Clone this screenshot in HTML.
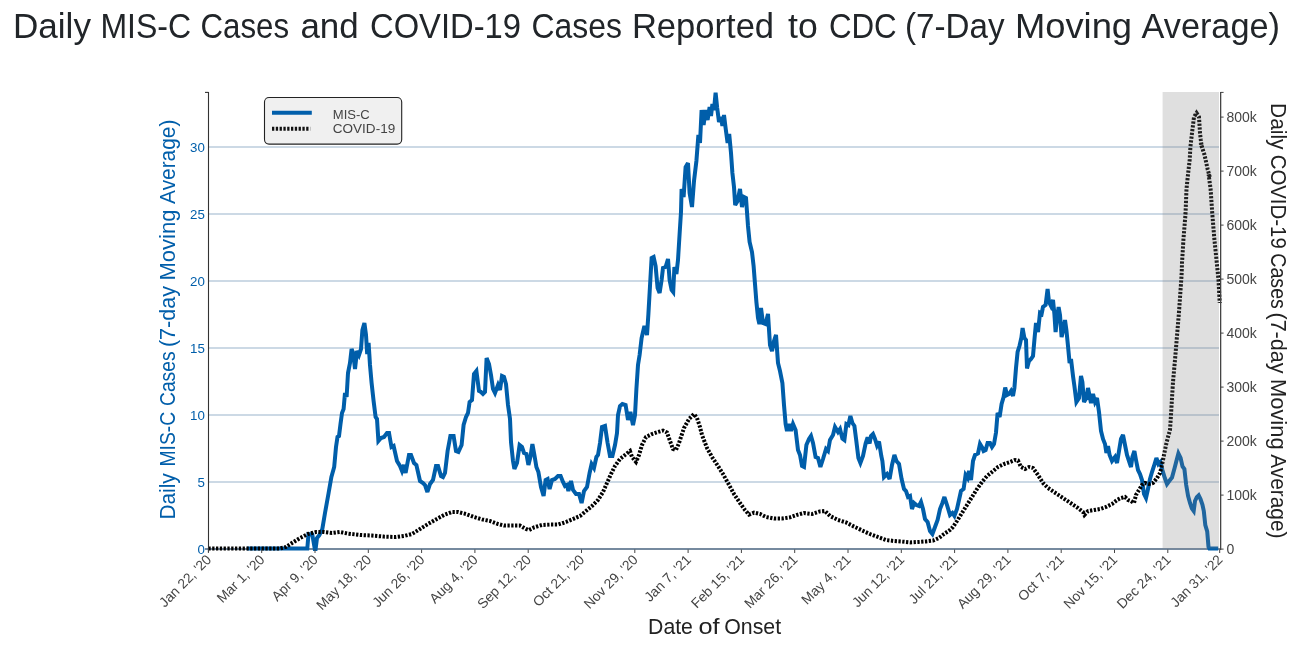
<!DOCTYPE html>
<html><head><meta charset="utf-8"><title>Daily MIS-C Cases and COVID-19 Cases Reported to CDC</title>
<style>html,body{margin:0;padding:0;background:#fff;}body{width:1309px;height:650px;overflow:hidden;font-family:"Liberation Sans", sans-serif;}svg{display:block;}text{font-family:"Liberation Sans", sans-serif;}</style></head><body>
<svg width="1309" height="650" viewBox="0 0 1309 650">
<defs><filter id="idf" x="0" y="0" width="1309" height="650" filterUnits="userSpaceOnUse" color-interpolation-filters="sRGB"><feOffset dx="0" dy="0"/></filter></defs>
<g filter="url(#idf)">
<rect x="0" y="0" width="1309" height="650" fill="#ffffff"/>
<g fill="#212529" font-size="35.3px">
<text x="12.9" y="37.8" textLength="78.1" lengthAdjust="spacingAndGlyphs">Daily</text>
<text x="100.4" y="37.8" textLength="90.7" lengthAdjust="spacingAndGlyphs">MIS-C</text>
<text x="200.5" y="37.8" textLength="88.6" lengthAdjust="spacingAndGlyphs">Cases</text>
<text x="300.4" y="37.8" textLength="58.3" lengthAdjust="spacingAndGlyphs">and</text>
<text x="370.0" y="37.8" textLength="151.0" lengthAdjust="spacingAndGlyphs">COVID-19</text>
<text x="531.5" y="37.8" textLength="90.5" lengthAdjust="spacingAndGlyphs">Cases</text>
<text x="631.9" y="37.8" textLength="142.2" lengthAdjust="spacingAndGlyphs">Reported</text>
<text x="788.0" y="37.8" textLength="29.7" lengthAdjust="spacingAndGlyphs">to</text>
<text x="828.9" y="37.8" textLength="67.8" lengthAdjust="spacingAndGlyphs">CDC</text>
<text x="905.0" y="37.8" textLength="99.5" lengthAdjust="spacingAndGlyphs">(7-Day</text>
<text x="1014.9" y="37.8" textLength="117.2" lengthAdjust="spacingAndGlyphs">Moving</text>
<text x="1141.5" y="37.8" textLength="138.5" lengthAdjust="spacingAndGlyphs">Average)</text>
</g>
<g stroke="#bbcddd" stroke-width="1.5">
<line x1="209" x2="1219" y1="482.0" y2="482.0"/>
<line x1="209" x2="1219" y1="415.0" y2="415.0"/>
<line x1="209" x2="1219" y1="348.0" y2="348.0"/>
<line x1="209" x2="1219" y1="281.0" y2="281.0"/>
<line x1="209" x2="1219" y1="214.0" y2="214.0"/>
<line x1="209" x2="1219" y1="147.0" y2="147.0"/>
</g>
<line x1="205" x2="1221" y1="549" y2="549" stroke="#48637f" stroke-width="1.6"/>
<path d="M247.0,548.6 L307.3,548.6 L308.5,534.0 L312.3,534.5 L314.8,549.0 L315.6,549.0 L317.0,538.0 L319.2,535.4 L322.3,529.2 L325.0,513.0 L328.6,493.0 L331.4,477.0 L334.2,467.0 L336.0,447.0 L337.5,437.0 L339.0,436.0 L340.5,424.0 L342.0,413.0 L343.6,409.0 L345.0,393.0 L346.6,397.0 L348.0,373.0 L350.0,363.0 L351.6,349.0 L353.2,353.0 L355.0,369.0 L357.0,351.0 L359.0,355.0 L361.0,349.0 L362.4,330.0 L364.4,323.0 L366.0,335.0 L367.2,354.0 L368.6,343.0 L370.0,365.0 L371.6,383.0 L373.6,401.0 L375.6,417.0 L377.0,419.0 L378.4,441.0 L381.0,438.0 L384.0,437.0 L387.0,433.0 L389.0,433.0 L390.4,441.0 L391.5,447.0 L393.6,446.0 L397.0,461.0 L400.0,466.0 L402.0,471.0 L404.0,465.0 L405.6,473.0 L409.0,455.0 L411.0,455.0 L414.0,463.0 L416.4,465.0 L420.0,481.0 L423.0,483.0 L425.0,485.0 L427.4,492.0 L430.0,484.0 L433.0,480.0 L436.0,466.0 L438.0,466.0 L441.0,476.0 L443.0,477.0 L445.0,473.0 L447.6,451.0 L450.4,436.0 L453.6,436.0 L456.0,451.0 L458.4,452.0 L461.6,445.0 L463.6,425.0 L466.0,417.0 L468.0,413.0 L469.6,402.0 L472.0,400.0 L474.0,374.0 L476.4,371.0 L479.0,391.0 L481.0,392.0 L483.0,394.0 L485.0,392.0 L486.6,358.0 L489.0,364.0 L491.0,375.0 L493.0,389.0 L495.0,393.0 L498.0,385.0 L500.0,390.0 L502.0,376.0 L504.0,377.0 L506.0,384.0 L508.0,405.0 L510.0,419.0 L511.0,442.0 L513.0,461.0 L514.4,469.0 L517.0,463.0 L519.6,445.0 L522.0,447.0 L524.0,453.0 L526.4,454.0 L528.4,465.0 L530.4,457.0 L532.4,444.0 L534.4,455.0 L536.4,467.0 L538.4,472.0 L541.0,487.0 L543.6,496.0 L545.6,480.0 L547.6,479.0 L549.6,489.0 L552.0,480.0 L555.0,479.0 L558.0,476.0 L560.6,476.0 L563.0,482.0 L565.0,486.0 L567.0,485.0 L568.4,491.0 L571.0,481.0 L573.0,490.0 L576.0,494.0 L579.0,494.0 L581.6,503.0 L584.0,491.0 L587.0,487.0 L589.6,473.0 L591.6,464.0 L594.0,468.0 L596.4,457.0 L598.0,455.0 L600.0,443.0 L602.0,427.0 L605.0,426.0 L607.6,443.0 L610.0,456.0 L612.4,456.0 L615.0,445.0 L617.0,433.0 L618.0,415.0 L620.0,406.0 L622.4,404.0 L625.6,405.0 L628.0,420.0 L630.4,412.0 L633.0,425.0 L635.0,415.0 L636.4,389.0 L638.0,365.0 L639.6,355.0 L641.6,338.0 L644.4,326.0 L647.0,335.0 L648.4,314.0 L650.0,286.0 L651.6,258.0 L653.6,257.0 L655.6,266.0 L657.6,288.0 L659.6,293.0 L661.6,280.0 L663.0,268.0 L665.6,267.0 L668.0,259.0 L669.6,280.0 L671.6,290.0 L673.2,292.0 L674.4,267.0 L676.4,274.0 L678.0,260.0 L679.6,234.0 L681.0,212.0 L681.6,189.0 L683.6,197.0 L685.6,167.0 L688.0,163.0 L689.6,193.0 L692.0,207.0 L694.0,181.0 L696.4,161.0 L698.4,135.0 L700.0,143.0 L701.6,110.0 L703.6,125.0 L705.6,110.0 L707.6,120.0 L709.6,107.0 L711.0,116.0 L712.4,104.0 L714.0,110.0 L715.6,92.6 L717.2,108.0 L719.0,122.0 L721.0,117.0 L722.4,126.0 L724.0,115.0 L725.6,128.0 L727.6,143.0 L729.2,134.0 L731.0,153.0 L732.4,173.0 L734.0,187.0 L735.2,205.0 L737.6,201.0 L740.0,189.0 L742.0,207.0 L744.0,197.0 L746.0,198.0 L747.0,212.0 L748.0,226.0 L749.6,242.0 L752.0,252.0 L753.6,266.0 L755.0,284.0 L756.4,302.0 L758.0,318.0 L759.4,324.0 L761.0,308.0 L763.0,323.0 L765.6,324.0 L768.0,314.0 L770.0,345.0 L772.0,351.0 L774.0,341.0 L776.0,335.0 L778.0,363.0 L780.0,371.0 L782.4,383.0 L784.0,405.0 L785.6,424.0 L787.0,431.0 L789.0,424.0 L791.0,431.0 L793.0,424.0 L795.6,430.0 L798.0,450.0 L800.0,455.0 L802.0,466.0 L804.0,467.0 L806.4,445.0 L809.0,439.0 L811.0,436.0 L813.0,443.0 L815.6,457.0 L818.0,458.0 L820.4,467.0 L823.0,459.0 L826.0,449.0 L828.0,451.0 L830.0,440.0 L833.0,435.0 L835.0,427.0 L838.0,432.0 L840.0,429.0 L842.4,438.5 L844.4,440.0 L846.4,424.0 L848.4,425.0 L850.4,416.0 L852.4,423.0 L854.4,426.0 L856.2,440.0 L858.4,458.0 L860.4,463.0 L863.0,456.0 L865.6,443.5 L867.6,437.5 L869.6,443.5 L871.0,436.0 L873.0,434.0 L875.0,439.0 L877.0,445.5 L879.0,441.5 L881.3,456.0 L882.4,461.0 L884.0,477.0 L887.0,474.0 L889.6,479.0 L892.0,465.0 L894.4,455.0 L896.4,461.0 L899.0,464.0 L901.6,479.0 L904.0,489.0 L906.0,491.0 L908.0,497.0 L910.0,496.0 L912.0,509.0 L914.0,503.0 L916.4,505.0 L919.0,506.0 L921.0,502.0 L923.0,509.0 L925.0,519.0 L927.6,522.0 L930.0,531.0 L932.4,534.0 L935.0,527.0 L937.6,520.0 L940.0,509.0 L942.4,503.0 L944.4,497.0 L947.0,505.0 L950.0,515.0 L952.4,513.0 L954.4,516.0 L957.0,509.0 L959.0,500.0 L961.0,491.0 L963.6,489.0 L965.6,475.0 L967.6,478.0 L969.0,471.0 L971.0,480.0 L973.0,461.0 L975.0,455.0 L978.0,453.5 L980.0,444.0 L982.4,448.0 L983.6,451.0 L985.6,450.0 L987.6,443.0 L990.0,443.0 L992.0,447.0 L994.0,444.0 L996.0,432.5 L997.6,413.0 L999.6,417.0 L1001.6,404.0 L1003.6,397.0 L1005.2,387.5 L1007.0,395.0 L1009.0,394.0 L1011.0,391.0 L1013.0,396.0 L1014.4,388.0 L1016.0,368.0 L1017.6,352.0 L1019.6,345.5 L1021.4,337.5 L1022.6,328.0 L1024.4,338.0 L1026.0,340.0 L1027.0,368.5 L1029.0,361.0 L1031.0,359.0 L1033.0,356.0 L1034.4,340.0 L1036.0,323.0 L1038.0,332.0 L1040.0,313.0 L1041.6,314.0 L1043.0,307.0 L1045.6,305.0 L1047.6,289.0 L1049.0,302.0 L1051.0,306.0 L1053.0,300.0 L1054.4,314.0 L1055.6,332.0 L1057.0,318.0 L1058.6,307.0 L1060.0,315.0 L1061.6,337.0 L1063.2,330.0 L1065.0,320.0 L1066.4,330.0 L1068.0,346.0 L1069.6,363.0 L1071.0,359.0 L1073.0,376.0 L1074.4,386.0 L1076.4,402.0 L1079.0,398.0 L1081.0,376.0 L1082.4,382.0 L1084.0,402.0 L1086.4,398.0 L1088.0,388.0 L1089.6,396.0 L1091.0,403.0 L1093.0,394.0 L1095.0,402.0 L1097.0,398.0 L1099.0,412.0 L1101.0,431.0 L1103.0,439.0 L1105.0,444.0 L1106.4,453.0 L1108.0,446.0 L1109.6,455.0 L1112.0,461.0 L1115.0,457.0 L1117.0,463.0 L1119.0,451.0 L1121.0,439.0 L1123.0,435.0 L1125.0,445.0 L1127.0,455.0 L1129.0,461.0 L1131.0,467.0 L1132.4,457.0 L1134.4,451.0 L1136.0,460.0 L1138.0,470.0 L1140.0,474.0 L1142.0,480.0 L1144.0,494.0 L1146.0,498.0 L1148.0,489.0 L1150.0,479.0 L1152.0,472.0 L1154.0,466.0 L1156.4,458.0 L1158.4,464.0 L1160.4,462.0 L1162.4,470.0 L1165.0,478.5 L1167.0,484.0 L1169.6,480.5 L1172.0,477.5 L1174.6,468.0 L1176.4,461.0 L1178.4,453.5 L1180.6,458.0 L1182.5,466.4 L1184.4,469.0 L1186.2,485.0 L1188.1,496.0 L1190.0,503.0 L1191.8,508.3 L1193.7,511.0 L1195.0,501.0 L1196.8,497.2 L1198.7,495.4 L1200.5,499.0 L1202.4,504.6 L1203.8,511.0 L1205.3,525.0 L1207.2,531.4 L1208.5,547.0 L1209.4,548.6 L1218.2,548.6" fill="none" stroke="#005eaa" stroke-width="4" stroke-linejoin="miter" stroke-miterlimit="3" stroke-linecap="butt"/>
<path d="M208.4,548.6 L280.0,548.4 L286.0,547.0 L292.0,543.0 L300.0,538.0 L308.0,534.0 L316.0,532.0 L324.0,532.0 L332.0,533.0 L340.0,532.0 L348.0,533.6 L360.0,535.0 L372.0,535.6 L384.0,536.6 L396.0,537.0 L404.0,536.0 L412.0,534.0 L420.0,529.0 L428.0,524.0 L436.0,519.4 L444.0,515.0 L452.0,512.0 L458.0,512.0 L466.0,514.0 L474.0,517.0 L482.0,519.4 L490.0,521.0 L498.0,524.0 L504.0,525.6 L512.0,525.6 L520.0,525.6 L526.0,529.0 L529.0,530.0 L534.0,527.4 L542.0,525.0 L550.0,524.6 L558.0,524.6 L566.0,522.0 L574.0,518.6 L580.0,516.0 L586.0,511.0 L592.0,506.0 L598.0,500.0 L603.0,492.0 L607.0,483.0 L611.0,474.0 L615.0,466.0 L620.0,459.0 L625.0,455.0 L630.0,451.0 L632.0,457.0 L636.0,462.0 L639.0,455.0 L642.0,445.0 L646.0,437.0 L652.0,434.0 L658.0,432.0 L663.0,430.6 L667.0,432.5 L670.0,441.0 L673.0,449.0 L676.0,450.0 L679.0,443.0 L682.0,434.0 L684.0,428.0 L689.0,419.0 L694.0,414.0 L697.0,418.0 L700.0,427.0 L702.0,435.0 L707.0,448.0 L712.0,457.0 L718.0,466.0 L723.0,474.0 L728.0,483.0 L734.0,494.0 L740.0,503.0 L745.0,510.0 L749.0,514.6 L754.0,512.6 L760.0,514.0 L766.0,517.0 L774.0,518.6 L782.0,518.6 L790.0,517.4 L798.0,514.6 L804.0,513.0 L812.0,514.0 L820.0,511.4 L825.0,511.0 L830.0,516.0 L838.0,520.0 L846.0,522.4 L854.0,526.6 L862.0,530.4 L870.0,534.0 L878.0,537.0 L886.0,540.0 L894.0,541.0 L902.0,541.6 L910.0,542.4 L918.0,542.0 L926.0,541.4 L933.0,540.6 L939.0,538.0 L944.0,534.0 L950.0,530.0 L953.0,527.0 L957.0,521.0 L962.0,513.0 L967.0,505.0 L972.0,497.0 L977.0,489.0 L982.0,482.0 L987.0,476.0 L992.0,472.0 L998.0,467.0 L1004.0,464.0 L1010.0,462.0 L1015.0,460.0 L1018.0,460.6 L1021.0,467.0 L1025.0,469.0 L1029.0,467.0 L1033.0,468.0 L1038.0,475.0 L1043.0,483.0 L1048.0,488.0 L1054.0,492.0 L1060.0,496.0 L1066.0,500.0 L1072.0,504.0 L1078.0,508.0 L1083.0,512.0 L1084.4,515.0 L1088.0,511.0 L1094.0,510.0 L1100.0,509.0 L1106.0,507.0 L1112.0,504.0 L1117.0,500.0 L1121.0,498.0 L1125.0,497.0 L1128.0,500.0 L1131.0,501.0 L1134.0,503.0 L1136.0,495.0 L1139.0,490.0 L1142.0,485.0 L1145.0,483.0 L1149.0,484.0 L1153.0,483.0 L1157.0,478.0 L1160.0,473.0 L1162.0,465.0 L1164.0,455.0 L1166.0,445.0 L1168.0,437.0 L1170.0,430.0 L1171.0,415.0 L1172.0,398.0 L1173.0,382.0 L1175.0,360.0 L1177.0,336.0 L1179.0,312.0 L1180.4,292.0 L1181.6,275.0 L1182.0,263.0 L1183.5,238.5 L1185.5,214.0 L1186.5,189.0 L1188.0,174.5 L1189.7,159.7 L1190.4,147.0 L1192.0,133.0 L1194.0,117.0 L1196.5,113.0 L1199.0,117.0 L1200.0,133.0 L1200.8,140.0 L1201.8,147.0 L1200.6,143.0 L1204.5,154.8 L1207.7,169.5 L1209.8,177.0 L1208.6,174.5 L1210.6,189.0 L1212.3,214.0 L1214.3,238.5 L1216.8,263.0 L1218.5,280.0 L1219.7,303.0" fill="none" stroke="#000000" stroke-width="4" stroke-dasharray="2.3 1.5" stroke-linejoin="miter" stroke-miterlimit="2"/>
<rect x="1162.6" y="92" width="56.4" height="456.5" fill="#808080" fill-opacity="0.25"/>
<g stroke="#333" stroke-width="1.1" fill="none">
<path d="M208.5,92 V552"/>
<path d="M205,92.4 H208.5"/>
</g>
<g stroke="#444" stroke-width="1.3" fill="none">
<path d="M1220.65,92 V550"/>
<path d="M1220.65,92.4 H1223.6" stroke-width="1"/>
<path d="M1220.65,549.1 H1223.6" stroke-width="1"/>
<path d="M1220.65,495.1 H1223.6" stroke-width="1"/>
<path d="M1220.65,441.1 H1223.6" stroke-width="1"/>
<path d="M1220.65,387.1 H1223.6" stroke-width="1"/>
<path d="M1220.65,333.1 H1223.6" stroke-width="1"/>
<path d="M1220.65,279.1 H1223.6" stroke-width="1"/>
<path d="M1220.65,225.1 H1223.6" stroke-width="1"/>
<path d="M1220.65,171.1 H1223.6" stroke-width="1"/>
<path d="M1220.65,117.1 H1223.6" stroke-width="1"/>
</g>
<g stroke="#444" stroke-width="1">
<line x1="208.4" x2="208.4" y1="549.5" y2="553"/>
<line x1="261.7" x2="261.7" y1="549.5" y2="553"/>
<line x1="315.0" x2="315.0" y1="549.5" y2="553"/>
<line x1="368.3" x2="368.3" y1="549.5" y2="553"/>
<line x1="421.6" x2="421.6" y1="549.5" y2="553"/>
<line x1="474.9" x2="474.9" y1="549.5" y2="553"/>
<line x1="528.2" x2="528.2" y1="549.5" y2="553"/>
<line x1="581.5" x2="581.5" y1="549.5" y2="553"/>
<line x1="634.8" x2="634.8" y1="549.5" y2="553"/>
<line x1="688.1" x2="688.1" y1="549.5" y2="553"/>
<line x1="741.4" x2="741.4" y1="549.5" y2="553"/>
<line x1="794.7" x2="794.7" y1="549.5" y2="553"/>
<line x1="848.0" x2="848.0" y1="549.5" y2="553"/>
<line x1="901.3" x2="901.3" y1="549.5" y2="553"/>
<line x1="954.6" x2="954.6" y1="549.5" y2="553"/>
<line x1="1007.9" x2="1007.9" y1="549.5" y2="553"/>
<line x1="1061.2" x2="1061.2" y1="549.5" y2="553"/>
<line x1="1114.5" x2="1114.5" y1="549.5" y2="553"/>
<line x1="1167.8" x2="1167.8" y1="549.5" y2="553"/>
<line x1="1219.7" x2="1219.7" y1="549.5" y2="553"/>
</g>
<g fill="#005eaa" font-size="13.3px" text-anchor="end">
<text x="204.8" y="553.8">0</text>
<text x="204.8" y="486.8">5</text>
<text x="204.8" y="419.8">10</text>
<text x="204.8" y="352.8">15</text>
<text x="204.8" y="285.8">20</text>
<text x="204.8" y="218.8">25</text>
<text x="204.8" y="151.8">30</text>
</g>
<g fill="#444" font-size="14px">
<text x="1226.5" y="553.9">0</text>
<text x="1226.5" y="499.9">100k</text>
<text x="1226.5" y="445.9">200k</text>
<text x="1226.5" y="391.9">300k</text>
<text x="1226.5" y="337.9">400k</text>
<text x="1226.5" y="283.9">500k</text>
<text x="1226.5" y="229.9">600k</text>
<text x="1226.5" y="175.9">700k</text>
<text x="1226.5" y="121.9">800k</text>
</g>
<g fill="#444" font-size="13.8px" text-anchor="end">
<text transform="translate(212.2,560.5) rotate(-45)" x="0" y="0">Jan 22, '20</text>
<text transform="translate(265.5,560.5) rotate(-45)" x="0" y="0">Mar 1, '20</text>
<text transform="translate(318.8,560.5) rotate(-45)" x="0" y="0">Apr 9, '20</text>
<text transform="translate(372.1,560.5) rotate(-45)" x="0" y="0">May 18, '20</text>
<text transform="translate(425.4,560.5) rotate(-45)" x="0" y="0">Jun 26, '20</text>
<text transform="translate(478.7,560.5) rotate(-45)" x="0" y="0">Aug 4, '20</text>
<text transform="translate(532.0,560.5) rotate(-45)" x="0" y="0">Sep 12, '20</text>
<text transform="translate(585.3,560.5) rotate(-45)" x="0" y="0">Oct 21, '20</text>
<text transform="translate(638.6,560.5) rotate(-45)" x="0" y="0">Nov 29, '20</text>
<text transform="translate(691.9,560.5) rotate(-45)" x="0" y="0">Jan 7, '21</text>
<text transform="translate(745.2,560.5) rotate(-45)" x="0" y="0">Feb 15, '21</text>
<text transform="translate(798.5,560.5) rotate(-45)" x="0" y="0">Mar 26, '21</text>
<text transform="translate(851.8,560.5) rotate(-45)" x="0" y="0">May 4, '21</text>
<text transform="translate(905.1,560.5) rotate(-45)" x="0" y="0">Jun 12, '21</text>
<text transform="translate(958.4,560.5) rotate(-45)" x="0" y="0">Jul 21, '21</text>
<text transform="translate(1011.7,560.5) rotate(-45)" x="0" y="0">Aug 29, '21</text>
<text transform="translate(1065.0,560.5) rotate(-45)" x="0" y="0">Oct 7, '21</text>
<text transform="translate(1118.3,560.5) rotate(-45)" x="0" y="0">Nov 15, '21</text>
<text transform="translate(1171.6,560.5) rotate(-45)" x="0" y="0">Dec 24, '21</text>
<text transform="translate(1223.5,560.5) rotate(-45)" x="0" y="0">Jan 31, '22</text>
</g>
<g transform="translate(0,633.6)" font-size="21.3px" fill="#222"><text x="648.06" y="0" textLength="44.90" lengthAdjust="spacingAndGlyphs">Date</text><text x="698.45" y="0" textLength="21.11" lengthAdjust="spacingAndGlyphs">of</text><text x="724.29" y="0" textLength="56.82" lengthAdjust="spacingAndGlyphs">Onset</text></g>
<g transform="translate(175.2,0) rotate(-90)" font-size="21.3px" fill="#005eaa"><text x="-519.62" y="0" textLength="46.31" lengthAdjust="spacingAndGlyphs">Daily</text><text x="-466.57" y="0" textLength="54.88" lengthAdjust="spacingAndGlyphs">MIS-C</text><text x="-405.93" y="0" textLength="54.43" lengthAdjust="spacingAndGlyphs">Cases</text><text x="-347.13" y="0" textLength="61.05" lengthAdjust="spacingAndGlyphs">(7-day</text><text x="-280.58" y="0" textLength="71.10" lengthAdjust="spacingAndGlyphs">Moving</text><text x="-203.92" y="0" textLength="84.25" lengthAdjust="spacingAndGlyphs">Average)</text></g>
<g transform="translate(1270.6,0) rotate(90)" font-size="21.3px" fill="#222"><text x="103.02" y="0" textLength="46.52" lengthAdjust="spacingAndGlyphs">Daily</text><text x="154.68" y="0" textLength="94.07" lengthAdjust="spacingAndGlyphs">COVID-19</text><text x="253.28" y="0" textLength="55.67" lengthAdjust="spacingAndGlyphs">Cases</text><text x="312.46" y="0" textLength="61.07" lengthAdjust="spacingAndGlyphs">(7-day</text><text x="379.05" y="0" textLength="70.52" lengthAdjust="spacingAndGlyphs">Moving</text><text x="454.29" y="0" textLength="84.23" lengthAdjust="spacingAndGlyphs">Average)</text></g>
<rect x="264.5" y="97.5" width="137.2" height="46.6" rx="4.5" ry="4.5" fill="#f0f0f0" stroke="#222" stroke-width="1.1"/>
<line x1="272" x2="311.8" y1="112.8" y2="112.8" stroke="#005eaa" stroke-width="4"/>
<line x1="272" x2="310.2" y1="128.7" y2="128.7" stroke="#111" stroke-width="4" stroke-dasharray="2.3 1.5"/>
<text x="332.8" y="118.6" font-size="13.6px" fill="#444" textLength="37" lengthAdjust="spacingAndGlyphs">MIS-C</text>
<text x="332.8" y="133.2" font-size="13.6px" fill="#444" textLength="62.4" lengthAdjust="spacingAndGlyphs">COVID-19</text>
</g></svg></body></html>
